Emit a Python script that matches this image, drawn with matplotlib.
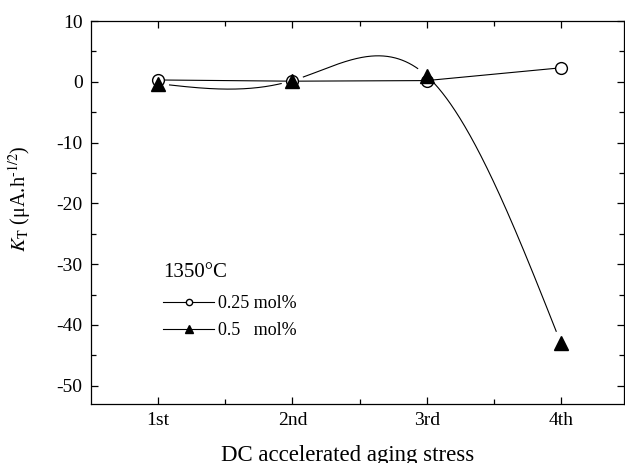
import numpy as np
import matplotlib
matplotlib.use("Agg")
import matplotlib.pyplot as plt
from matplotlib.lines import Line2D

plt.rcParams["font.family"] = ["Liberation Serif", "DejaVu Serif"]
plt.rcParams["mathtext.fontset"] = "stix"
plt.rcParams["axes.unicode_minus"] = False

stages = ["1st", "2nd", "3rd", "4th"]
x_pos = [1, 2, 3, 4]
kt_025 = [0.3, 0.1, 0.2, 2.3]
kt_05 = [-0.3, 0.2, 1.0, -43.0]


def natural_spline(x, y, xs):
    # plain natural cubic spline, evaluated on xs
    x = np.asarray(x, float)
    y = np.asarray(y, float)
    n = len(x)
    h = np.diff(x)
    A = np.zeros((n, n))
    b = np.zeros(n)
    A[0, 0] = A[-1, -1] = 1.0
    for i in range(1, n - 1):
        A[i, i - 1] = h[i - 1]
        A[i, i] = 2 * (h[i - 1] + h[i])
        A[i, i + 1] = h[i]
        b[i] = 6 * ((y[i + 1] - y[i]) / h[i] - (y[i] - y[i - 1]) / h[i - 1])
    M = np.linalg.solve(A, b)
    out = np.empty_like(xs)
    for k, t in enumerate(xs):
        i = min(np.searchsorted(x, t, side="right") - 1, n - 2)
        i = max(i, 0)
        a, c = x[i + 1] - t, t - x[i]
        out[k] = (M[i] * a ** 3 + M[i + 1] * c ** 3) / (6 * h[i]) \
            + (y[i] / h[i] - M[i] * h[i] / 6) * a \
            + (y[i + 1] / h[i] - M[i + 1] * h[i] / 6) * c
    return out


fig = plt.figure(figsize=(6.25, 4.63), dpi=100)
ax = fig.add_axes([91 / 625, 1 - 404 / 463, 533 / 625, 383 / 463])
ax.set_xlim(0.5, 4.47)
ax.set_ylim(-53, 10)

# smooth curve for 0.5 mol%, broken near the symbols
xs = np.linspace(1, 4, 600)
ys = natural_spline(x_pos, kt_05, xs)
pts = ax.transData.transform(np.column_stack([xs, ys]))
marks = ax.transData.transform(np.column_stack([x_pos, kt_05]))
dist = np.min(np.hypot(pts[:, None, 0] - marks[None, :, 0],
                       pts[:, None, 1] - marks[None, :, 1]), axis=1)
ys_masked = np.where(dist < 11, np.nan, ys)
ax.plot(xs, ys_masked, color="black", lw=0.8, zorder=2)

ax.plot(x_pos, kt_025, color="black", lw=0.8, marker="o", ms=8.5,
        mfc="white", mec="black", mew=1.0, zorder=3)
ax.plot(x_pos, kt_05, ls="none", marker="^", ms=9.5, color="black", zorder=4)

ax.set_xticks(x_pos)
ax.set_xticklabels(stages)
ax.set_xticks([1.5, 2.5, 3.5], minor=True)
ax.set_yticks(np.arange(-50, 11, 10))
ax.set_yticks(np.arange(-45, 10, 10), minor=True)
ax.tick_params(which="both", direction="in", top=True, right=True,
               labelsize=14, width=0.9)
ax.tick_params(which="major", length=5, pad=6)
ax.tick_params(which="minor", length=3.5)
for s in ax.spines.values():
    s.set_linewidth(0.9)

ax.set_xlabel("DC accelerated aging stress", fontsize=16.5)
ax.xaxis.set_label_coords(0.482, -0.108)
ax.set_ylabel(r"$K_{\mathrm{T}}$ (μA.h$^{\text{-1/2}}$)", fontsize=14.5)
ax.yaxis.set_label_coords(-0.108, 0.535)

handles = [
    Line2D([], [], color="black", lw=0.8, marker="o", ms=4.5, mfc="white", mec="black"),
    Line2D([], [], color="black", lw=0.8, marker="^", ms=5.5),
]
leg = ax.legend(handles, ["0.25 mol%", "0.5   mol%"], title="1350°C",
                loc="upper left", bbox_to_anchor=(0.136, 0.367), frameon=False,
                fontsize=13, title_fontsize=15, handlelength=2.8,
                handletextpad=0.2, labelspacing=0.55, borderaxespad=0,
                borderpad=0)
leg._legend_box.align = "left"
leg._legend_box.sep = 9

fig.savefig("out.png", dpi=100)
